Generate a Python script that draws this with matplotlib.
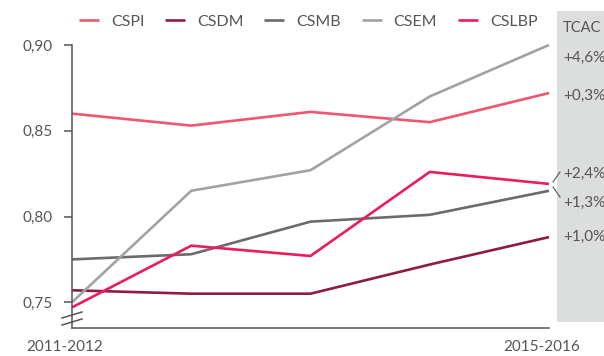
import matplotlib
matplotlib.use("Agg")
import matplotlib.pyplot as plt
from matplotlib.lines import Line2D
from matplotlib.patches import Rectangle

periods = ["2011-2012", "2012-2013", "2013-2014", "2014-2015", "2015-2016"]
series_names = ["CSPI", "CSDM", "CSMB", "CSEM", "CSLBP"]
cspi = [0.860, 0.853, 0.861, 0.855, 0.872]
csdm = [0.757, 0.755, 0.755, 0.772, 0.788]
csmb = [0.775, 0.778, 0.797, 0.801, 0.815]
csem = [0.750, 0.815, 0.827, 0.870, 0.900]
cslbp = [0.747, 0.783, 0.777, 0.826, 0.819]
tcac_labels = ["+4,6%", "+0,3%", "+2,4%", "+1,3%", "+1,0%"]
y_ticks = [0.75, 0.80, 0.85, 0.90]
y_tick_labels = ["0,75", "0,80", "0,85", "0,90"]

colors = ["#F0566E", "#8E1B47", "#6B6B6E", "#A2A2A4", "#EA1C5C"]
text_color = "#555558"
plt.rcParams["font.family"] = ["Lato", "DejaVu Sans"]

W, H = 604, 356
fig = plt.figure(figsize=(W / 100, H / 100), dpi=100)
ax_l, ax_r, ax_t, ax_b = 72, 549, 45, 328
ax = fig.add_axes([ax_l / W, 1 - ax_b / H, (ax_r - ax_l) / W, (ax_b - ax_t) / H])

# grey TCAC panel on the right
fig.patches.append(Rectangle((557 / W, 1 - 322 / H), (W - 557) / W, (322 - 11) / H,
                             transform=fig.transFigure, facecolor="#DCDDDD",
                             edgecolor="none", zorder=0))

x = list(range(len(periods)))
all_series = [cspi, csdm, csmb, csem, cslbp]
for name, vals, c in zip(series_names, all_series, colors):
    ax.plot(x, vals, color=c, lw=1.9, label=name, clip_on=False,
            solid_capstyle="butt", solid_joinstyle="miter")

ax.set_xlim(0, 4)
ax.set_ylim(0.735, 0.90)
ax.set_yticks(y_ticks)
ax.set_yticklabels(y_tick_labels)
ax.set_xticks([])
ax.tick_params(axis="y", length=6, width=1.1, color=text_color, labelcolor=text_color,
               labelsize=11, pad=8)
for s in ["top", "right"]:
    ax.spines[s].set_visible(False)
for s in ["left", "bottom"]:
    ax.spines[s].set_color(text_color)
    ax.spines[s].set_linewidth(1.1)
ax.patch.set_alpha(0)

# x labels for first and last period
for xi in (0, 4):
    ax.annotate(periods[xi], xy=(xi, 0), xycoords=("data", "axes fraction"),
                xytext=(-7, -19), textcoords="offset pixels", ha="center", va="center",
                fontsize=11, color=text_color)

# axis break marks
for yy in (315, 322):
    fig.add_artist(Line2D([62 / W, 82 / W], [1 - (yy + 3) / H, 1 - (yy - 3) / H],
                          color=text_color, lw=1.1))

# TCAC labels
fig.text(563 / W, 1 - 28 / H, "TCAC", fontsize=10.5, color=text_color, va="center", ha="left")
label_y = [58, 96, 174, 203, 237]
for lab, yy in zip(tcac_labels, label_y):
    fig.text(563 / W, 1 - yy / H, lab, fontsize=11, color=text_color, va="center", ha="left")
fig.add_artist(Line2D([553 / W, 560 / W], [1 - 182 / H, 1 - 172 / H], color=text_color, lw=0.8))
fig.add_artist(Line2D([553 / W, 560 / W], [1 - 187 / H, 1 - 197 / H], color=text_color, lw=0.8))

leg = fig.legend(loc="center left", bbox_to_anchor=(79 / W, 1 - 22 / H), ncol=5,
                 frameon=False, handlelength=1.25, handletextpad=0.75, columnspacing=1.3,
                 fontsize=11.5, borderaxespad=0, borderpad=0)
for t in leg.get_texts():
    t.set_color(text_color)

fig.savefig("out.png", dpi=100)
